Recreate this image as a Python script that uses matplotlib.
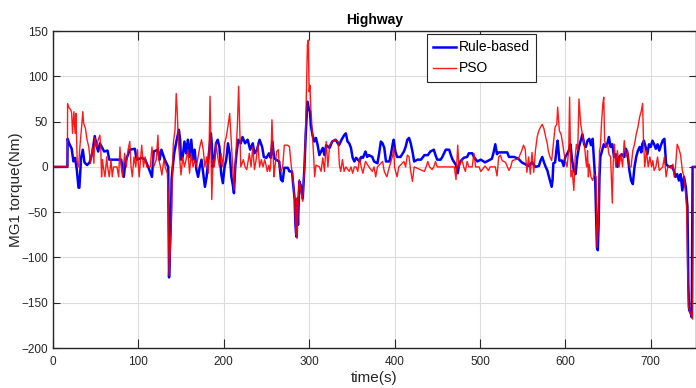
import matplotlib
matplotlib.use("Agg")
import matplotlib.pyplot as plt
import numpy as np

plt.rcParams['font.family'] = ['Liberation Sans Narrow', 'Liberation Sans', 'DejaVu Sans']

# Rule-based MG1 torque (time s, Nm)
t_rule = [0, 17, 17.2, 19, 22, 24, 26, 28, 30, 31, 33, 35, 37, 40, 43, 46, 49, 51, 53, 55, 60, 64, 66, 80, 83, 85, 90, 96, 98, 104, 108, 112, 116, 118,
          123, 125, 127, 131, 135, 136, 137, 138, 139, 140, 142, 145, 147.5, 149, 150, 152, 154, 156, 158, 160, 162, 164, 166, 168, 170, 172, 174, 176, 178, 180, 182, 185, 186, 187, 189, 191, 193, 195, 197, 199, 201, 203, 205, 207, 209, 211, 212, 213.5, 215, 217, 220, 222, 225, 228, 231, 234, 236, 239, 242, 245, 247, 250,
          253, 255, 257, 259, 261, 265, 267, 269, 271, 275, 277, 280, 281, 283, 284, 285, 286, 287, 288.5, 290, 292.5, 294.5, 296, 298, 299.5, 301, 302, 304, 306, 308, 310, 312, 316, 318, 320, 324, 327, 331, 335, 338, 341, 343, 345, 347, 349, 351, 353, 355, 359, 361, 363, 366, 368, 370, 374, 376,
          380, 382, 384, 386, 388, 390, 394, 396, 398, 399, 401, 403, 407, 411, 413, 415, 417, 419, 421, 423, 427, 431, 435, 439, 442, 446, 448, 450, 454, 456, 458, 460, 464, 466, 468, 472, 474, 475.5, 477, 481, 485, 487, 491, 493, 497, 501,
          506, 510, 514, 516, 518, 520, 522, 532, 534, 540, 545, 549, 553, 557, 561, 565, 569, 571, 573, 575, 577, 579, 580, 582, 584, 585, 586, 588, 590, 591, 593, 596, 598, 600, 602, 604, 606, 608, 610, 612, 614, 616, 618, 620, 622, 624, 626, 628, 630, 632, 634, 635, 637, 638, 639, 640, 641, 643, 645, 647, 649, 651, 653, 655, 657, 659, 661, 663, 666, 669, 671, 673, 675, 677, 679, 681, 683, 685, 687, 689, 690, 692, 694, 696, 698, 700, 702, 704, 706, 708, 710, 712, 714, 716, 718, 720, 722, 725, 727, 729, 731, 733, 735, 737, 739, 741, 743, 744, 745, 747, 748, 749, 753]
tq_rule = [0, 0, 31, 26, 20, 6, 10, -3, -23, -23, 10, 19, 5, 2, 5, 15, 34, 24, 17, 26, 17, 18, 8, 8, -11, 6, 19, 20, 8, 10, 8, -1, -11, 17,
           19, 8, 19, 8, 0, -122, -89, -66, -14, -3, 15, 30, 41, 30, 8, 11, 28, 15, 30, 11, 30, 8, 19, -3, -11, 0, 8, -7, -22, -11, 8, 37, 26, 0, 8, 26, 30, 22, -7, -18, 0, 8, 26, 15, -11, -22, -29, 0, 15, 30, 26, 33, 26, 30, 19, 26, 15, 19, 30, 22, 11, 10,
           15, 10, 28, 10, 8, 6, -14, -16, -1, -1, -5, -5, -16, -35, -64, -77, -35, -64, -16, -20, -35, -1, 35, 72, 65, 61, 46, 35, 28, 32, 24, 13, 21, 13, 24, 21, 28, 30, 24, 30, 35, 37, 28, 26, 21, 10, 6, 10, 6, 11, 10, 17, 11, 13, 11, 6,
           4, 15, 28, 26, 21, 6, 6, 15, 26, 30, 17, 11, 11, 17, 22, 30, 32, 26, 17, 6, 8, 8, 13, 13, 17, 19, 13, 8, 8, 11, 15, 19, 19, 13, 8, 2, -7, 2, 6, 10, 11, 15, 15, 11, 6, 8,
           5, 7, 9, 16, 25, 14, 16, 16, 11, 11, 9, 5, 3, 1, 5, 0, 1, 7, 11, 5, 0, -4, -8, -15, -22, -15, 4, 5, 22, 29, 7, 7, 1, 11, 14, 18, 25, 7, -4, -8, 11, 22, 29, 36, 25, 22, 29, 31, 24, 31, 0, -15, -89, -92, -63, -11, 11, 18, 25, 22, 25, 33, 22, 25, 11, 14, 0, 11, 14, 11, 20, 14, -4, -15, -19, 0, 11, 18, 22, 16, 25, 29, 22, 14, 25, 22, 29, 25, 20, 25, 18, 24, 29, 31, 3, 1, 0, 1, -4, -11, -8, -15, -8, -26, -11, -22, -44, -130, -158, -162, -166, 0, 0]

# PSO MG1 torque
t_pso = [0, 17, 17.2, 19, 21, 22, 23, 24.6, 26, 27, 28.5, 30, 31.6, 33.6, 35, 36, 38, 40, 42, 44, 45, 46.5, 48, 49, 51, 53, 55, 56, 57, 58, 59, 61, 63, 64, 66, 68, 69.5, 71, 75, 77, 78.5, 80, 81.6, 84, 86, 88, 90, 91.5, 93, 95, 97, 99, 101, 104, 106, 108, 110, 114, 116, 118, 121,
         123, 124, 126, 127.6, 130, 131.5, 134, 135, 136, 137.5, 138.5, 140, 141, 143, 144.4, 145.5, 147, 148.5, 150, 152, 154, 156, 158, 160, 162, 164, 166, 168, 170, 172, 174, 176, 178, 180, 182, 183, 184, 185, 186, 187.5, 189, 191, 193, 195, 197, 199, 201, 203, 205, 207, 209, 211, 212, 214, 216, 217.5, 219, 220, 223, 225, 227, 230, 232, 234, 236, 238, 240, 242, 244, 246, 248, 250, 251,
         253, 254, 255, 256.5, 258, 259, 260, 262, 264, 265, 267, 269, 271, 275, 277, 279, 281, 283, 284.5, 285.5, 286, 287.5, 288.5, 290, 292.5, 294.5, 296, 298, 299, 300, 301, 302, 303, 305, 306.5, 308, 312, 314, 316, 318, 320, 322, 324, 327, 331, 334, 335.5, 337, 339, 341, 343, 347, 349, 351, 353, 355, 357, 359, 361, 363, 366, 370, 374, 376,
         378, 380, 386, 388, 391, 394, 398, 399, 400, 403, 405, 411, 413, 415, 417, 419, 421, 423, 435, 437, 439, 441, 444, 446, 448, 450, 454, 470, 472, 474, 475.5, 479, 481, 483, 485, 487, 491, 493, 495, 499, 501,
         502, 506, 510, 512, 518, 520, 522, 524, 526, 530, 534, 536, 538, 545, 549, 551, 553, 555, 557, 559, 561, 563, 565, 567, 569, 571, 573, 575, 577, 579, 580, 582, 584, 586, 588, 590, 591, 593, 595, 597, 598, 600, 602, 604, 605, 606.5, 608, 610, 611.5, 613, 614.5, 616, 618, 620, 622, 623, 624, 625, 626, 627, 628, 630, 632, 634, 636, 637, 638, 639, 640, 641, 642.5, 644, 645, 646, 648, 649.5, 651, 653, 655, 656, 657.5, 659, 661, 663, 665, 667, 669, 671, 673, 675, 677, 679, 681, 683, 685, 687, 689, 690.5, 691.5, 693, 695, 697, 699, 701, 702.5, 704, 706, 708, 710, 714, 716, 718, 720, 722, 724, 726, 727.5, 729, 731, 733, 735, 737, 739, 740.5, 742, 743, 744, 747, 749, 750, 753]
tq_pso = [0, 0, 70, 65, 63, 59, 37, 61, 37, 59, 4, 0, 22, 44, 61, 48, 43, 30, 22, 4, 11, 22, 4, 32, 22, 30, 35, 22, -11, 8, 0, -11, 11, 0, -11, 8, -11, 0, 0, -11, 22, 0, -11, 15, 0, 19, 28, 0, -11, 11, 0, 19, -11, 24, 0, 11, 0, 0, 22, 0, 8,
          35, 8, 0, -9, 8, 0, -7, -29, -120, -90, -66, -3, 26, 41, 81, 63, 26, 8, -9, 11, 0, 8, 19, -7, 15, 0, 8, 0, 11, 22, 30, 19, 0, 11, -7, 26, 78, 26, -36, 8, 0, 26, 11, 0, 15, 0, 26, 33, 45, 59, 26, -7, -25, 11, 45, 89, 33, 0, 8, 0, -3, 15, 0, 22, -3, 8, 26, 0, 8, 0, 8, 0, -5,
          2, -5, 0, 52, 10, -11, 0, 17, 19, 0, -5, 0, 24, 24, 22, 2, -13, -35, -75, -35, -79, -27, -14, -24, -38, -1, 46, 135, 140, 83, 90, 65, 50, 17, -11, 2, 0, -5, 10, -5, 28, 0, 24, 28, 30, 28, 2, -5, 8, -5, 0, -5, 0, -7, 0, 0, -5, 10, 0, -7, 6, 0, -5, 0,
          -11, 0, 6, -5, -11, 0, 13, 22, 0, -11, 0, 6, 0, 13, 11, -5, -16, 0, -5, 0, 6, 0, -3, 0, 6, 0, 0, 0, -14, 24, 0, 8, 0, -5, 6, 0, 0, 15, 0, 0, -5,
          -4, 1, -4, 0, 0, -10, 11, 13, 7, 5, -4, 0, 7, 9, 18, 24, 20, -6, 11, -8, 16, -6, 18, 33, 40, 44, 47, 42, 33, 25, 18, 11, 7, 25, 44, 47, 66, 40, 36, 25, 18, 7, 0, 18, 77, -11, -4, -26, 11, 25, 18, 75, 47, 36, 25, 18, 7, 0, 18, -11, 3, -11, -15, -8, -11, -89, -74, -59, 18, 22, 51, 70, 77, 29, 22, 25, 14, 11, -40, 3, 25, 0, 18, 0, 14, 0, 29, 11, 18, 0, 0, 18, 25, 36, 44, 55, 62, 70, 29, 0, 18, 0, 11, 0, 7, -4, 0, 11, -4, 0, 11, -11, 0, 1, -2, 3, -11, 0, 25, 20, 13, -4, -11, -26, -45, -100, -155, -162, -168, 0, 0]

x_ticks = [0, 100, 200, 300, 400, 500, 600, 700]
y_ticks = [-200, -150, -100, -50, 0, 50, 100, 150]

fig = plt.figure(figsize=(6.96, 3.88), dpi=100)
ax = fig.add_axes([0.076, 0.103, 0.924, 0.817])

ax.plot(t_rule, tq_rule, color='#0000ff', lw=1.8, label='Rule-based')
ax.plot(t_pso, tq_pso, color='#ff0000', lw=1.0, alpha=0.9, label='PSO')

ax.set_xlim(0, 753)
ax.set_ylim(-200, 150)
ax.set_xticks(x_ticks)
ax.set_yticks(y_ticks)
ax.grid(True, color='#dcdcdc', lw=0.8)
ax.set_axisbelow(True)
ax.tick_params(direction='in', top=True, right=True, labelsize=8.5, color='#262626', labelcolor='#262626')
ax.tick_params(axis='x', length=6.5, pad=6)
ax.tick_params(axis='y', length=5)
for s in ax.spines.values():
    s.set_color('#262626')
    s.set_linewidth(1.0)

ax.set_title('Highway', fontsize=10, fontweight='bold', pad=5)
ax.set_xlabel('time(s)', fontsize=11, labelpad=2, color='#262626')
ax.set_ylabel('MG1 torque(Nm)', fontsize=11, labelpad=-1, color='#262626')

leg = ax.legend(loc='upper left', bbox_to_anchor=(0.582, 0.99), borderaxespad=0, fontsize=10,
                fancybox=False, edgecolor='#262626', framealpha=1, handlelength=1.6,
                handletextpad=0.2, borderpad=0.45, labelspacing=0.5)
leg.get_frame().set_linewidth(0.8)

fig.savefig('out.png', dpi=100)
